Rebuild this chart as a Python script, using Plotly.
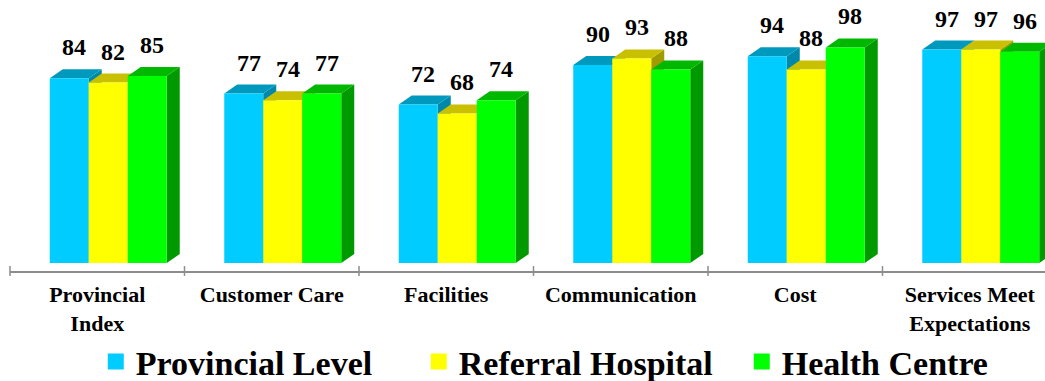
import plotly.graph_objects as go

categories = ["Provincial<br>Index", "Customer Care", "Facilities", "Communication", "Cost",
              "Services Meet<br>Expectations"]
series_names = ["Provincial Level", "Referral Hospital", "Health Centre"]
provincial_level = [84, 77, 72, 90, 94, 97]
referral_hospital = [82, 74, 68, 93, 88, 97]
health_centre = [85, 77, 74, 88, 98, 96]
series_values = [provincial_level, referral_hospital, health_centre]

# styles
front_colors = ["#00CCFF", "#FFFF00", "#00FF00"]
top_colors = ["#0099BE", "#C8C000", "#00B800"]
side_colors = ["#0088AA", "#A09C00", "#009A00"]
FONT = "'Liberation Serif', 'Times New Roman', serif"

PX_X = 174.5          # px per category
PX_Y = 2.2            # px per value unit
BAR_W = 39 / PX_X
GROUP_SHIFT = 11 / PX_X
DX = 13 / PX_X
DY = 9 / PX_Y
LABEL_SHIFT = 5 / PX_X
Y_MIN = -8 / PX_Y
PLOT_H = 271
Y_MAX = Y_MIN + PLOT_H / PX_Y
X_MIN = -0.5
X_MAX = X_MIN + 1035 / PX_X

fig = go.Figure()
shapes = []
annotations = []
n = len(categories)
for k, (name, vals) in enumerate(zip(series_names, series_values)):
    xs = [i + GROUP_SHIFT + (k - 1) * BAR_W for i in range(n)]
    fig.add_trace(go.Bar(x=xs, y=vals, width=BAR_W, marker=dict(color=front_colors[k], line=dict(width=0)),
                         showlegend=False, hoverinfo="skip"))
    fig.add_trace(go.Scatter(x=[None], y=[None], mode="markers", name=name,
                             marker=dict(symbol="square", size=18, color=front_colors[k])))
    for x, v in zip(xs, vals):
        x0, x1 = x - BAR_W / 2, x + BAR_W / 2
        side = f"M {x1} 0 L {x1 + DX} {DY} L {x1 + DX} {v + DY} L {x1} {v} Z"
        top = f"M {x0} {v} L {x0 + DX} {v + DY} L {x1 + DX} {v + DY} L {x1} {v} Z"
        shapes.append(dict(type="path", path=side, xref="x", yref="y", layer="below",
                           fillcolor=side_colors[k], line=dict(width=0)))
        shapes.append(dict(type="path", path=top, xref="x", yref="y", layer="below",
                           fillcolor=top_colors[k], line=dict(width=0)))
        annotations.append(dict(x=x + LABEL_SHIFT, y=v, xref="x", yref="y", text=str(v),
                                showarrow=False, yanchor="bottom", yshift=16,
                                font=dict(family=FONT, size=24, color="black", weight="bold")))

boundaries = [i - 0.5 for i in range(n + 1)]
fig.add_trace(go.Scatter(x=boundaries, y=[Y_MIN] * len(boundaries), mode="markers",
                         marker=dict(symbol="line-ns", size=7, line=dict(width=1.5, color="#8c8c8c")),
                         cliponaxis=False, showlegend=False, hoverinfo="skip"))

fig.update_layout(
    width=1045, height=381,
    margin=dict(l=10, r=0, t=0, b=381 - PLOT_H, autoexpand=False),
    plot_bgcolor="white", paper_bgcolor="white",
    shapes=shapes, annotations=annotations,
    xaxis=dict(range=[X_MIN, X_MAX], tickvals=list(range(n)), ticktext=categories,
               showgrid=False, zeroline=False, showline=True, linecolor="#8c8c8c", linewidth=2,
               ticks="outside", ticklen=3, tickcolor="rgba(0,0,0,0)",
               tickfont=dict(family=FONT, size=22, color="black", weight="bold")),
    yaxis=dict(range=[Y_MIN, Y_MAX], visible=False),
    legend=dict(orientation="h", x=0.551, xanchor="center", y=-(362 - PLOT_H) / PLOT_H, yanchor="middle",
                font=dict(family=FONT, size=34, color="black", weight="bold"),
                entrywidth=278, entrywidthmode="pixels",
                itemsizing="trace", bgcolor="rgba(0,0,0,0)"),
    showlegend=True,
)

fig.write_html("out.html")
